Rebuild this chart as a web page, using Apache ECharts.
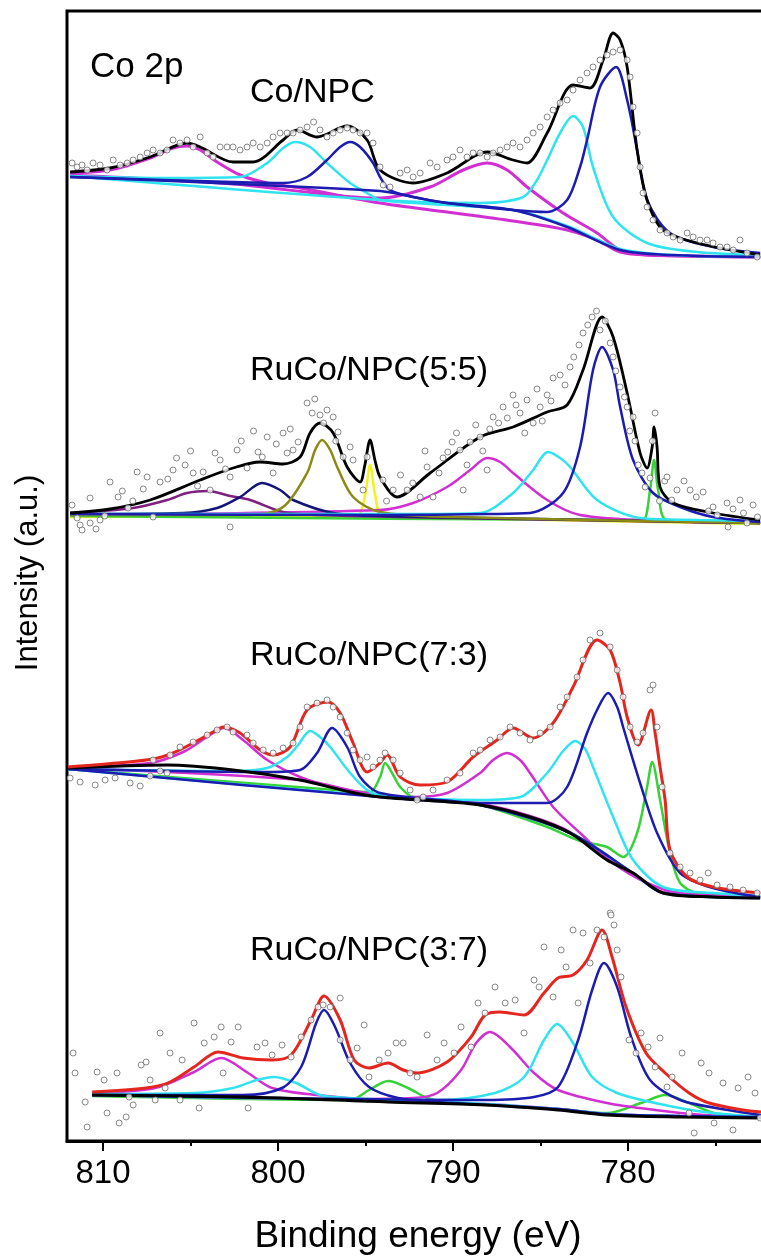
<!DOCTYPE html>
<html>
<head>
<meta charset="utf-8">
<script src="https://cdn.jsdelivr.net/npm/echarts@6/dist/echarts.min.js"></script>
<style>
html,body{margin:0;padding:0;background:#fff;}
#chart{width:761px;height:1256px;}
</style>
</head>
<body>
<div id="chart"></div>
<script>
// ---------- axis ticks / labels ----------
const xMajorTicks = [780, 790, 800, 810];
const xMinorTicks = [775, 785, 795, 805];
const sampleLabels = ['Co/NPC', 'RuCo/NPC(5:5)', 'RuCo/NPC(7:3)', 'RuCo/NPC(3:7)'];
const panelLabel = 'Co 2p';

// ---------- Co/NPC ----------
const pointsA = [[811.77,978],[811.48,974],[811.2,976],[810.91,971],[810.57,978],[810.17,976],[809.77,971],[809.42,981],[809.02,976],[808.62,978],[808.28,981],[807.88,984],[807.48,988],[807.14,991],[806.74,988],[806.34,991],[806.0,1001],[805.6,998],[805.2,1001],[804.85,994],[804.45,1004],[804.05,988],[803.71,984],[803.31,994],[802.91,994],[802.57,994],[802.17,991],[801.77,994],[801.42,998],[801.02,994],[800.62,998],[800.28,1004],[799.88,1008],[799.48,1008],[799.14,1008],[798.74,1011],[798.34,1014],[797.97,1019],[797.6,1011],[797.2,1004],[796.85,1008],[796.45,1011],[796.05,1013],[795.71,1011],[795.31,1008],[794.91,1008],[794.57,998],[794.17,974],[793.99,956],[793.6,954],[793.02,968],[792.62,971],[792.28,964],[791.88,968],[791.31,978],[790.91,974],[790.34,981],[790.0,984],[789.6,991],[789.2,984],[788.85,988],[788.45,988],[788.05,984],[787.71,988],[787.31,991],[786.91,994],[786.57,998],[786.17,994],[785.77,1001],[785.42,1008],[785.02,1014],[784.62,1024],[784.28,1031],[783.88,1038],[783.48,1041],[783.14,1051],[782.74,1061],[782.34,1068],[782.0,1074],[781.6,1081],[781.2,1086],[780.85,1089],[780.45,1091],[780.05,1081],[779.88,1064],[779.71,1034],[779.48,1008],[779.31,974],[779.14,948],[778.91,934],[778.57,921],[778.17,911],[777.77,908],[777.42,904],[777.02,901],[776.62,908],[776.28,904],[775.88,901],[775.48,901],[775.14,898],[774.74,894],[774.34,894],[773.99,891],[773.6,901],[773.2,888],[772.62,884]];
const fitA = [[811.88,969],[809.60,973],[807.31,984],[805.20,998],[804.45,994],[802.57,979],[801.42,979],[799.71,1001],[798.91,1011],[797.77,1004],[796.05,1015],[794.91,1001],[794.17,971],[792.28,958],[790.34,968],[788.05,989],[786.57,981],[785.77,978],[784.62,1008],[783.14,1056],[782.17,1053],[781.42,1081],[780.85,1108],[780.45,1101],[780.05,1074],[779.48,991],[778.91,941],[778.00,911],[776.05,898],[772.45,886]];
const magentaA1 = [[811.88,968],[809.60,971],[807.31,983],[806.00,993],[805.20,995],[804.45,991],[803.48,979],[802.17,966],[800.62,958],[798.74,953],[794.17,938],[790.34,929],[786.57,920],[783.48,911],[781.77,901],[780.45,889],[778.91,886],[772.45,884]];
const magentaA2 = [[811.88,966],[802.57,957],[794.17,943],[791.31,954],[789.42,971],[788.05,978],[786.91,971],[785.77,954],[783.71,928],[781.77,908],[780.45,891],[778.91,886],[772.45,884]];
const cyanA1 = [[811.88,965],[806.34,963],[802.17,964],[800.62,978],[799.71,993],[799.02,999],[798.17,994],[797.20,978],[795.88,958],[794.91,948],[794.17,941],[790.34,936],[786.57,931],[783.48,915],[780.45,892],[777.5,886],[772.45,884]];
const cyanA2 = [[811.88,965],[794.17,941],[788.45,938],[785.99,944],[785.2,961],[784.62,981],[783.88,1008],[783.14,1025],[782.57,1014],[782.0,974],[780.85,924],[778.91,898],[776.05,889],[772.45,886]];
const blueA1 = [[811.88,964],[802.57,959],[799.71,958],[798.34,964],[797.20,981],[796.45,994],[795.88,999],[795.31,994],[794.57,978],[794.17,964],[793.60,951],[792.28,944],[790.34,938],[786.57,931],[783.48,914],[780.45,891],[777.5,886],[772.45,884]];
const blueA2 = [[811.88,964],[794.17,950],[792.28,944],[790.34,938],[786.57,931],[784.62,929],[783.48,941],[782.74,974],[782.34,1001],[781.60,1054],[780.68,1074],[780.05,1041],[779.48,991],[778.91,941],[777.60,908],[775.14,894],[772.45,888]];

// ---------- RuCo/NPC(5:5) ----------
const pointsB = [[811.77,636],[811.48,623],[811.31,616],[811.2,611],[810.74,643],[810.74,618],[810.4,612],[810.17,621],[809.9,625],[809.60,659],[809.14,644],[808.9,650],[808.57,633],[808.3,640],[808.05,669],[807.7,652],[807.48,664],[807.14,624],[806.74,659],[806.3,662],[806.0,671],[805.8,683],[805.31,676],[805.0,690],[804.85,668],[804.6,655],[804.28,669],[803.88,651],[803.6,688],[803.31,681],[803.0,672],[802.74,664],[802.74,614],[802.34,691],[802.1,700],[801.77,673],[801.4,710],[801.14,689],[800.9,684],[800.62,704],[800.28,668],[800.1,697],[799.71,708],[799.48,688],[799.3,712],[799.14,691],[798.85,699],[798.34,738],[798.05,728],[797.9,742],[797.60,726],[797.4,718],[797.20,731],[796.85,724],[796.7,700],[796.57,709],[796.28,684],[795.88,694],[795.71,681],[795.14,651],[794.91,684],[794.0,661],[793.8,640],[793.42,651],[793.0,666],[792.62,651],[792.3,658],[791.88,644],[791.6,690],[791.48,674],[791.14,644],[790.8,668],[790.57,683],[790.3,689],[790.05,699],[789.8,708],[789.60,691],[789.42,651],[789.2,676],[789.02,699],[788.7,716],[788.45,704],[788.3,690],[788.05,671],[787.9,712],[787.71,724],[787.4,718],[787.14,734],[786.9,723],[786.57,746],[786.4,736],[786.17,728],[785.9,708],[785.77,741],[785.42,718],[785.2,752],[785.02,734],[784.9,720],[784.62,746],[784.4,740],[784.28,763],[783.88,766],[783.6,756],[783.31,774],[783.1,784],[782.8,796],[782.57,808],[782.3,816],[782.05,824],[781.8,830],[781.60,811],[781.3,820],[781.02,798],[780.85,784],[780.7,770],[780.45,754],[780.2,744],[780.05,734],[779.9,710],[779.71,724],[779.6,700],[779.42,676],[779.2,668],[779.02,654],[778.74,663],[778.6,700],[778.45,728],[778.2,640],[777.9,660],[777.77,664],[777.5,641],[777.20,651],[776.8,660],[776.45,651],[776.1,644],[775.71,649],[775.4,630],[775.14,634],[774.9,626],[774.34,638],[774.28,614],[774.0,632],[773.60,641],[773.4,628],[773.2,618],[772.85,636],[772.6,624]];
const fitB = [[811.88,628],[809.60,632],[807.31,641],[804.45,661],[802.57,673],[801.02,679],[799.71,677],[798.74,684],[798.17,708],[797.60,718],[796.85,708],[796.05,674],[795.31,659],[795.05,675],[794.74,701],[794.45,680],[794.17,664],[793.20,644],[791.31,668],[788.45,704],[786.57,714],[784.62,729],[783.48,736],[782.57,771],[781.48,824],[780.85,804],[780.05,748],[779.31,688],[778.91,673],[778.62,694],[778.51,714],[778.34,694],[778.17,654],[777.42,638],[775.14,628],[772.45,621]];
const purpleB = [[811.88,628],[808.28,633],[806.34,641],[805.20,648],[804.0,650],[802.74,645],[801.60,641],[799.71,629],[797.77,626],[790.0,623],[780.0,620],[772.45,618]];
const navyB = [[811.88,627],[805.42,628],[803.48,633],[802.17,644],[800.91,658],[799.88,651],[799.14,641],[796.85,628],[794.0,625],[785.0,622],[772.45,618]];
const oliveB = [[811.88,626],[801.60,626],[799.71,634],[798.34,668],[797.88,691],[797.48,701],[797.02,691],[796.62,674],[795.71,644],[794.17,629],[790.0,624],[772.45,618]];
const yellowB = [[811.88,624],[796.5,625],[795.42,626],[795.02,646],[794.74,676],[794.45,646],[794.05,626],[790.0,623],[772.45,617]];
const magentaB = [[811.88,626],[794.17,631],[792.28,638],[790.34,654],[789.02,671],[788.05,683],[787.31,679],[786.57,668],[784.62,641],[782.74,626],[778.0,620],[772.45,618]];
const cyanB = [[811.88,627],[792.0,627],[788.45,628],[786.57,648],[785.42,671],[784.57,689],[783.88,683],[783.31,674],[781.77,641],[779.31,623],[775.88,621],[772.45,620]];
const blueB = [[811.88,627],[794.17,626],[788.0,627],[785.60,628],[783.71,648],[782.74,694],[782.0,771],[781.48,794],[780.85,771],[780.45,734],[779.71,681],[778.57,648],[777.02,634],[775.14,624],[772.45,619]];
const greenB = [[811.88,625],[780.0,621],[779.14,621],[778.74,651],[778.51,681],[778.28,651],[777.77,621],[772.45,618]];

// ---------- RuCo/NPC(7:3) ----------
const pointsC = [[811.88,363],[811.31,359],[810.45,356],[809.88,361],[809.31,363],[808.45,358],[807.88,355],[807.31,365],[807.14,381],[806.74,370],[806.34,368],[806.17,386],[805.6,394],[804.85,399],[804.05,406],[803.48,411],[802.91,414],[802.57,409],[801.77,406],[801.42,398],[800.85,391],[800.28,388],[799.71,393],[799.14,398],[798.74,414],[798.34,434],[797.77,438],[797.20,441],[796.85,434],[796.45,424],[796.05,408],[795.71,391],[795.31,381],[794.91,384],[794.57,374],[794.17,381],[793.88,388],[793.42,381],[793.02,368],[792.45,351],[792.05,341],[791.71,344],[791.14,351],[790.34,361],[789.60,368],[788.85,388],[788.45,391],[787.88,401],[787.31,404],[786.74,414],[786.17,408],[785.60,401],[785.02,408],[784.45,414],[783.88,434],[783.48,444],[782.91,464],[782.57,481],[782.17,501],[781.60,508],[781.02,494],[780.62,471],[780.28,444],[779.88,414],[779.48,399],[779.14,408],[778.74,451],[778.57,456],[778.34,414],[778.05,354],[777.60,288],[777.02,274],[776.45,268],[775.88,261],[775.42,268],[774.91,256],[774.17,254],[773.42,251],[772.62,248],[781.02,228]];
const fitC = [[812.0,374],[809.2,378],[807.14,382],[806.0,388],[804.85,398],[803.71,409],[803.14,414],[802.17,408],[801.02,391],[800.28,386],[799.31,394],[798.34,431],[797.14,439],[796.45,428],[795.71,398],[794.91,369],[794.17,378],[793.77,386],[793.02,364],[791.88,356],[790.34,359],[788.85,384],[787.48,401],[786.57,413],[785.42,403],[784.28,418],[783.14,454],[781.77,501],[781.02,491],[780.45,458],[780.05,424],[779.42,396],[778.68,431],[778.45,408],[778.17,374],[777.88,341],[777.60,291],[776.62,264],[775.14,254],[772.45,248]];
const bgC = [[812.0,373],[806.34,376],[802.57,371],[798.74,361],[795.88,349],[794.17,344],[788.45,336],[785.6,324],[783.31,308],[781.2,281],[779.71,268],[778.0,248],[775.14,244],[772.45,243]];
const magentaC1 = [[812.0,374],[807.31,378],[805.42,389],[804.05,404],[803.08,413],[802.0,401],[800.62,381],[798.74,364],[796.85,354],[794.17,346],[788.45,337],[785.6,325],[783.31,309],[781.2,282],[779.71,268],[778.0,249],[772.45,244]];
const cyanC1 = [[812.0,372],[802.57,370],[800.62,373],[799.48,384],[798.85,396],[798.17,410],[797.6,404],[797.02,394],[795.88,368],[794.91,351],[794.17,346],[788.45,336],[783.31,308],[779.71,268],[778.0,248],[772.45,243]];
const blueC1 = [[812.0,372],[800.62,369],[798.74,371],[797.77,388],[796.91,413],[796.05,394],[795.31,364],[794.17,348],[788.45,336],[783.31,308],[779.71,268],[778.0,248],[772.45,243]];
const greenC = [[812.0,372],[796.0,350],[794.74,349],[794.17,364],[793.88,378],[793.42,366],[793.02,354],[792.28,344],[788.45,336],[784.62,314],[782.74,300],[781.2,294],[780.28,284],[779.48,308],[778.91,354],[778.62,379],[778.17,341],[777.6,288],[777.02,258],[776.05,248],[772.45,244]];
const magentaC2 = [[812.0,373],[798.74,361],[794.17,345],[792.28,344],[790.34,348],[788.45,368],[787.71,381],[786.91,388],[786.17,381],[785.6,368],[784.28,334],[782.74,308],[780.85,278],[778.91,258],[777.02,248],[772.45,244]];
const cyanC2 = [[812.0,372],[794.17,345],[788.45,341],[786.17,344],[784.62,368],[783.71,390],[783.02,400],[782.45,392],[782.0,374],[780.85,324],[779.71,281],[778.0,254],[775.14,248],[772.45,245]];
const blueC2 = [[812.0,372],[794.17,344],[788.45,338],[786.57,338],[784.62,338],[783.48,354],[782.34,408],[781.77,431],[781.14,448],[780.62,434],[780.28,414],[779.31,358],[778.34,308],[777.02,268],[775.14,253],[772.45,244]];

// ---------- RuCo/NPC(3:7) ----------
const pointsD = [[811.71,88],[811.60,68],[811.02,39],[810.91,14],[810.34,69],[809.94,61],[809.77,28],[809.20,68],[809.08,18],[808.68,24],[808.51,44],[808.28,36],[807.82,76],[807.54,79],[807.31,61],[807.02,41],[806.74,108],[806.45,53],[806.17,88],[805.60,41],[805.48,81],[804.80,118],[804.51,33],[804.22,98],[803.65,104],[803.25,114],[803.14,68],[802.68,99],[802.28,114],[801.71,33],[801.20,94],[800.74,98],[800.34,86],[799.77,96],[799.25,84],[798.68,104],[798.11,121],[797.71,134],[797.42,136],[797.02,134],[796.45,143],[796.45,101],[795.88,81],[795.48,93],[795.08,116],[794.80,64],[794.22,81],[793.71,88],[793.25,98],[792.85,98],[792.45,68],[792.05,64],[791.48,106],[790.91,81],[790.51,98],[789.94,88],[789.54,114],[788.97,94],[788.57,138],[788.17,128],[787.60,154],[787.02,138],[786.45,141],[785.94,108],[785.37,161],[785.08,154],[784.80,194],[784.28,144],[783.82,191],[783.54,174],[783.14,211],[782.85,138],[782.57,208],[782.17,178],[781.77,211],[781.37,204],[780.97,226],[780.80,216],[780.62,191],[780.40,164],[779.94,101],[779.54,88],[779.25,108],[778.85,94],[778.45,74],[778.17,103],[777.77,54],[777.48,64],[776.91,88],[776.51,28],[776.22,8],[775.82,78],[775.37,68],[775.08,18],[774.57,58],[774.0,11],[773.71,53],[773.14,64],[772.74,48],[772.45,23]];
const fitD = [[810.62,49],[807.54,53],[806.17,59],[804.80,74],[803.42,89],[802.0,83],[800.34,81],[799.25,86],[798.11,121],[797.37,145],[796.45,121],[795.65,81],[794.80,73],[793.71,78],[792.85,71],[792.05,68],[790.34,79],[788.97,104],[788.17,126],[787.31,129],[785.94,126],[784.80,148],[784.0,163],[783.14,166],[782.34,181],[781.48,211],[780.91,184],[780.11,134],[778.97,88],[777.88,68],[776.51,48],[775.37,38],[773.42,31],[772.40,29]];
const bgD = [[810.62,46],[802.0,44],[793.71,39],[788.17,36],[784.0,31],[781.2,26],[777.02,24],[772.4,23]];
const magentaD1 = [[810.62,48],[807.02,53],[804.80,69],[803.25,83],[801.71,68],[800.34,53],[797.82,46],[793.71,40],[788.17,37],[784.0,32],[781.2,27],[777.02,25],[772.4,24]];
const cyanD1 = [[810.62,47],[804.80,48],[802.57,53],[801.20,61],[800.22,64],[798.97,58],[797.6,46],[795.88,43],[790.0,39],[784.0,32],[781.2,27],[777.02,25],[772.4,24]];
const blueD1 = [[810.62,46],[802.0,46],[799.77,53],[798.68,74],[797.82,118],[797.37,131],[796.74,114],[795.88,78],[794.80,54],[793.14,43],[790.91,39],[784.0,32],[781.2,27],[777.02,25],[772.4,24]];
const greenD = [[810.62,45],[795.88,41],[794.80,51],[793.71,60],[792.57,53],[791.48,43],[790.34,39],[784.0,32],[781.2,28],[779.25,38],[777.88,46],[776.51,38],[775.08,28],[772.4,24]];
const magentaD2 = [[810.62,46],[796.0,42],[792.28,43],[790.91,48],[789.54,71],[788.68,98],[787.88,109],[786.74,94],[785.37,68],[784.0,51],[781.2,38],[778.45,31],[775.65,26],[772.4,24]];
const cyanD2 = [[810.62,46],[790.91,41],[787.6,48],[785.94,64],[784.80,101],[784.05,117],[783.14,98],[782.05,64],[780.62,48],[778.45,38],[775.65,29],[772.4,24]];
const blueD2 = [[810.62,46],[788.17,41],[785.37,44],[784.0,54],[782.85,101],[782.05,151],[781.37,178],[780.62,154],[779.82,104],[778.74,61],[777.02,41],[774.28,31],[772.4,26]];

// ---------- styling ----------
const C = {
  black:'#000000', cyan:'#2fe3ef', blue:'#1c1cb0', magenta:'#d22fd2', purple:'#7f1f7f',
  navy:'#14147a', olive:'#8a8a14', yellow:'#f2f21c', green:'#36d236', red:'#e3261e'
};
const FONT = '"Liberation Sans", Arial, sans-serif';

function line(data, color, width) {
  return {
    type:'line', data:data, showSymbol:false, smooth:0.3, silent:true,
    lineStyle:{color:color, width:width || 2.5}, itemStyle:{color:color}, z:2
  };
}
function dots(data) {
  return {
    type:'scatter', data:data, symbol:'circle', symbolSize:6, silent:true, z:4,
    itemStyle:{color:'#ffffff', borderColor:'#6a6a6a', borderWidth:1}
  };
}

const series = [
  // A
  line(magentaA1, C.magenta, 3), line(magentaA2, C.magenta, 3),
  line(cyanA1, C.cyan), line(cyanA2, C.cyan),
  line(blueA1, C.blue), line(blueA2, C.blue),
  dots(pointsA),
  line(fitA, C.black, 2.8),
  // B
  line(yellowB, C.yellow), line(greenB, C.green), line(magentaB, C.magenta),
  line(purpleB, C.purple), line(navyB, C.navy), line(oliveB, C.olive),
  line(cyanB, C.cyan), line(blueB, C.blue),
  line(fitB, C.black, 2.8),
  dots(pointsB),
  // C
  line(greenC, C.green), line(magentaC1, C.magenta), line(magentaC2, C.magenta),
  line(cyanC1, C.cyan), line(cyanC2, C.cyan),
  line(blueC1, C.blue), line(blueC2, C.blue),
  line(bgC, C.black, 3),
  line(fitC, C.red, 3),
  dots(pointsC),
  // D
  line(greenD, C.green), line(magentaD1, C.magenta), line(magentaD2, C.magenta),
  line(cyanD1, C.cyan), line(cyanD2, C.cyan),
  line(blueD1, C.blue), line(blueD2, C.blue),
  line(bgD, C.black, 3),
  line(fitD, C.red, 3),
  dots(pointsD)
];

const chart = echarts.init(document.getElementById('chart'), null, {renderer:'canvas'});
chart.setOption({
  animation:false,
  backgroundColor:'#ffffff',
  grid:{left:67, top:11, width:736, height:1130, show:true, borderColor:'#000', borderWidth:3,
        backgroundColor:'transparent', containLabel:false, outerBoundsMode:'none'},
  xAxis:[
    {
      type:'value', min:770, max:812.06, inverse:true,
      axisLine:{show:true, lineStyle:{color:'#000', width:3}},
      axisTick:{show:true, customValues:xMajorTicks, length:10, lineStyle:{color:'#000', width:2}},
      axisLabel:{show:true, customValues:xMajorTicks, fontSize:33, color:'#000', fontFamily:FONT, margin:16},
      splitLine:{show:false}
    },
    {
      type:'value', min:770, max:812.06, inverse:true, position:'bottom',
      axisLine:{show:false},
      axisTick:{show:true, customValues:xMinorTicks, length:5, lineStyle:{color:'#000', width:2}},
      axisLabel:{show:false},
      splitLine:{show:false}
    }
  ],
  yAxis:{type:'value', min:0, max:1130, show:false, splitLine:{show:false}},
  series:series,
  graphic:[
    {type:'text', silent:true, style:{x:90, y:67, text:panelLabel, font:'35px ' + FONT, fill:'#000', align:'left', verticalAlign:'middle'}},
    {type:'text', silent:true, style:{x:250, y:93, text:sampleLabels[0], font:'34px ' + FONT, fill:'#000', align:'left', verticalAlign:'middle'}},
    {type:'text', silent:true, style:{x:250, y:371, text:sampleLabels[1], font:'34px ' + FONT, fill:'#000', align:'left', verticalAlign:'middle'}},
    {type:'text', silent:true, style:{x:250, y:656, text:sampleLabels[2], font:'34px ' + FONT, fill:'#000', align:'left', verticalAlign:'middle'}},
    {type:'text', silent:true, style:{x:250, y:951, text:sampleLabels[3], font:'34px ' + FONT, fill:'#000', align:'left', verticalAlign:'middle'}},
    {type:'text', silent:true, x:28, y:573, rotation:Math.PI/2, style:{x:0, y:0, text:'Intensity (a.u.)', font:'31px ' + FONT, fill:'#000', align:'center', verticalAlign:'middle'}},
    {type:'text', silent:true, style:{x:418, y:1237, text:'Binding energy (eV)', font:'37px ' + FONT, fill:'#000', align:'center', verticalAlign:'middle'}}
  ]
});
</script>
</body>
</html>
